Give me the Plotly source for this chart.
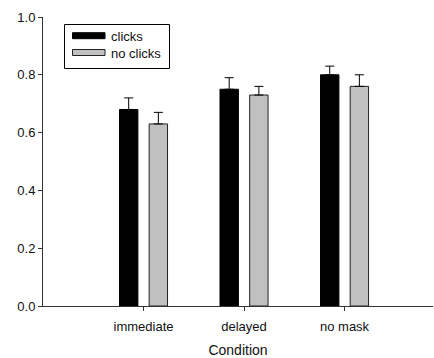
import plotly.graph_objects as go

categories = ["immediate", "delayed", "no mask"]
clicks = [0.68, 0.75, 0.80]
clicks_err = [0.04, 0.04, 0.03]
no_clicks = [0.63, 0.73, 0.76]
no_clicks_err = [0.04, 0.03, 0.04]
y_ticks = [0.0, 0.2, 0.4, 0.6, 0.8, 1.0]
series_names = ["clicks", "no clicks"]
series_colors = ["black", "#c0c0c0"]
series_lines = ["black", "#222222"]

FONT = "Liberation Sans, Arial, sans-serif"
W, H = 434, 358
ML, MR, MT, MB = 43, 1, 17, 52
PW, PH = W - ML - MR, H - MT - MB


def px(x):
    return (x - ML) / PW


def py(y):
    return 1 - (y - MT) / PH


fig = go.Figure()
for name, vals, errs, col, lc, off in [
    (series_names[0], clicks, clicks_err, series_colors[0], series_lines[0], -0.239),
    (series_names[1], no_clicks, no_clicks_err, series_colors[1], series_lines[1], 0.056),
]:
    fig.add_trace(go.Bar(
        x=categories, y=vals, name=name,
        width=0.183, offset=off,
        marker=dict(color=col, line=dict(color=lc, width=1)),
        error_y=dict(type="data", array=errs, arrayminus=[0] * len(errs), symmetric=False,
                     color="black", thickness=1, width=4.5),
        showlegend=False,
    ))

# custom legend (box, swatches, labels)
shapes = [dict(type="rect", xref="paper", yref="paper",
               x0=px(64.5), x1=px(169.5), y0=py(68.5), y1=py(24.5),
               line=dict(color="black", width=1), fillcolor="white", layer="above")]
annotations = []
rows = [(32.7, 38.7, 36), (49.5, 55.5, 53)]
for (y0, y1, yc), name, col, lc in zip(rows, series_names, series_colors, series_lines):
    shapes.append(dict(type="rect", xref="paper", yref="paper",
                       x0=px(72.5), x1=px(105), y0=py(y1), y1=py(y0),
                       line=dict(color=lc, width=1), fillcolor=col, layer="above"))
    annotations.append(dict(xref="paper", yref="paper", x=px(109), y=py(yc),
                            xanchor="left", yanchor="middle", text=name, showarrow=False,
                            font=dict(family=FONT, size=13, color="#111111")))

fig.update_layout(
    width=W, height=H,
    margin=dict(l=ML, r=MR, t=MT, b=MB, autoexpand=False),
    paper_bgcolor="white", plot_bgcolor="white",
    font=dict(family=FONT, size=13, color="#111111"),
    barmode="group",
    showlegend=False,
    shapes=shapes,
    annotations=annotations,
    xaxis=dict(
        range=[-1, 2.88], showline=True, linecolor="#333333", linewidth=1,
        ticks="outside", ticklen=4, tickcolor="#333333", showgrid=False, zeroline=False,
        title=dict(text="Condition", font=dict(size=14), standoff=19),
        tickfont=dict(size=13), ticklabelstandoff=4, automargin=False,
    ),
    yaxis=dict(
        range=[0, 1.0], tickvals=y_ticks, ticktext=[f"{v:.1f}" for v in y_ticks],
        showline=True, linecolor="#333333", linewidth=1,
        ticks="outside", ticklen=4, tickcolor="#333333", showgrid=False, zeroline=False,
        tickfont=dict(size=13), automargin=False,
    ),
)

fig.write_html("out.html")
